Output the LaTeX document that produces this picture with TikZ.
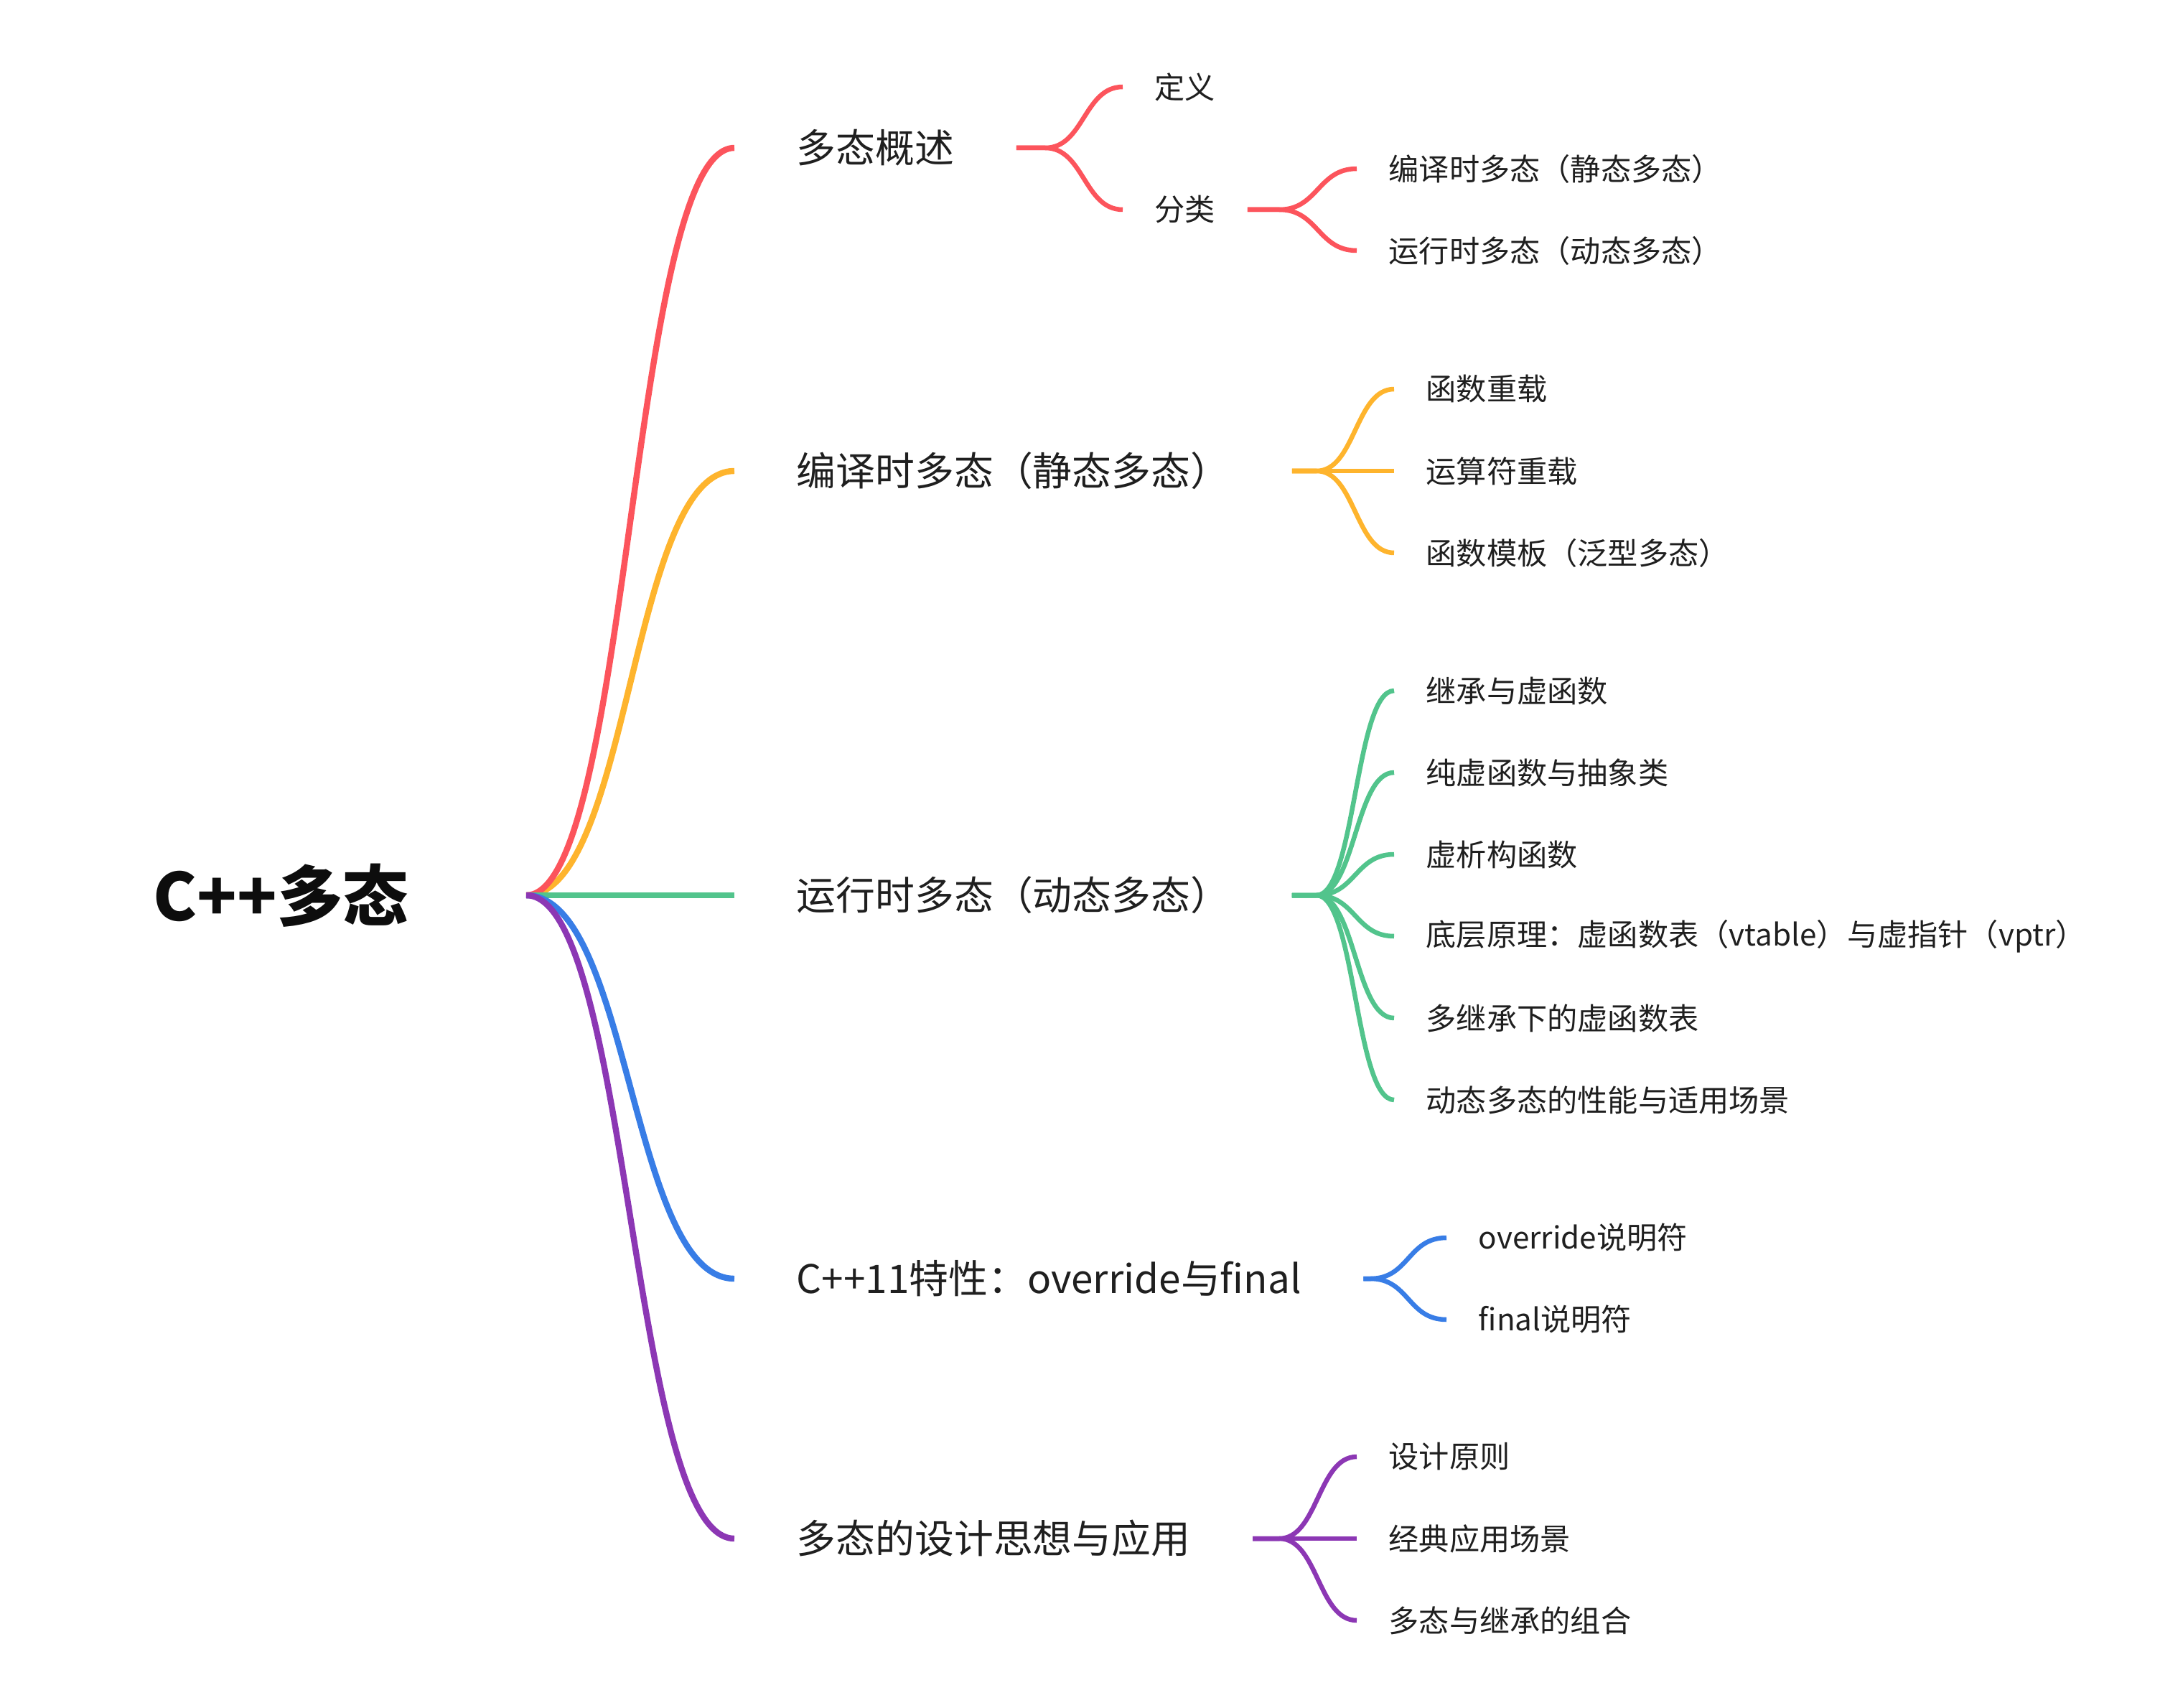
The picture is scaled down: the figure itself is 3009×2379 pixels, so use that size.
\documentclass[tikz,border=0pt]{standalone}
\usepackage{fontspec}
\setmainfont{Noto Sans CJK SC}
\usepackage{tikz}
\definecolor{mred}{RGB}{252,84,92}
\definecolor{myellow}{RGB}{254,180,45}
\definecolor{mgreen}{RGB}{82,196,140}
\definecolor{mblue}{RGB}{56,125,230}
\definecolor{mpurple}{RGB}{140,55,180}

\begin{document}
\begin{tikzpicture}[x=0.01cm,y=-0.01cm,
  root/.style={font=\fontsize{26}{30}\selectfont\bfseries,text=black!95,inner xsep=1.63cm,inner ysep=0pt,anchor=east},
  topic/.style={font=\fontsize{15.6}{19}\selectfont,text=black!88,inner xsep=0.86cm,inner ysep=0pt,anchor=west},
  leaf/.style={font=\fontsize{12}{14}\selectfont,text=black!88,inner xsep=0.44cm,inner ysep=0pt,anchor=west},
  main/.style={line width=2.4pt},
  sub/.style={line width=1.85pt}]
  \useasboundingbox (0,0) rectangle (3009,2379);
  \node[root] (R) at (733,1247) {C++多态};
  \node[topic] (a) at (1023,206) {多态概述};
  \node[topic] (b) at (1023,656) {编译时多态（静态多态）};
  \node[topic] (c) at (1023,1247) {运行时多态（动态多态）};
  \node[topic] (d) at (1023,1781) {C++11特性：override与final};
  \node[topic] (e) at (1023,2143) {多态的设计思想与应用};
  \node[leaf] (a1) at (1564,121) {定义}; \node[leaf] (a2) at (1564,292) {分类};
  \node[leaf] (a21) at (1890,235) {编译时多态（静态多态）}; \node[leaf] (a22) at (1890,349) {运行时多态（动态多态）};
  \node[leaf] (b1) at (1942,542) {函数重载}; \node[leaf] (b2) at (1942,656) {运算符重载}; \node[leaf] (b3) at (1942,770) {函数模板（泛型多态）};
  \node[leaf] (c1) at (1942,962) {继承与虚函数}; \node[leaf] (c2) at (1942,1076) {纯虚函数与抽象类};
  \node[leaf] (c3) at (1942,1190) {虚析构函数}; \node[leaf] (c4) at (1942,1304) {底层原理：虚函数表（vtable）与虚指针（vptr）};
  \node[leaf] (c5) at (1942,1418) {多继承下的虚函数表}; \node[leaf] (c6) at (1942,1532) {动态多态的性能与适用场景};
  \node[leaf] (d1) at (2015,1724) {override说明符}; \node[leaf] (d2) at (2015,1838) {final说明符};
  \node[leaf] (e1) at (1890,2029) {设计原则}; \node[leaf] (e2) at (1890,2143) {经典应用场景}; \node[leaf] (e3) at (1890,2257) {多态与继承的组合};
  \coordinate (af) at (1456,206); \coordinate (a2f) at (1782,292); \coordinate (bf) at (1834,656);
  \coordinate (cf) at (1834,1247); \coordinate (df) at (1909,1781); \coordinate (ef) at (1782,2143);
  \foreach \t/\col in {b/myellow,a/mred,c/mgreen,d/mblue,e/mpurple}
    \draw[main,\col] (R.east) .. controls +(145,0) and +(-145,0) .. (\t.west);
  \foreach \t in {a1,a2} \draw[sub,mred] (a.east) -- (af) .. controls +(54,0) and +(-54,0) .. (\t.west);
  \foreach \t in {a21,a22} \draw[sub,mred] (a2.east) -- (a2f) .. controls +(54,0) and +(-54,0) .. (\t.west);
  \foreach \t in {b1,b2,b3} \draw[sub,myellow] (b.east) -- (bf) .. controls +(54,0) and +(-54,0) .. (\t.west);
  \foreach \t in {c1,c2,c3,c4,c5,c6} \draw[sub,mgreen] (c.east) -- (cf) .. controls +(54,0) and +(-54,0) .. (\t.west);
  \foreach \t in {d1,d2} \draw[sub,mblue] (d.east) -- (df) .. controls +(54,0) and +(-54,0) .. (\t.west);
  \foreach \t in {e1,e2,e3} \draw[sub,mpurple] (e.east) -- (ef) .. controls +(54,0) and +(-54,0) .. (\t.west);
\end{tikzpicture}
\end{document}
